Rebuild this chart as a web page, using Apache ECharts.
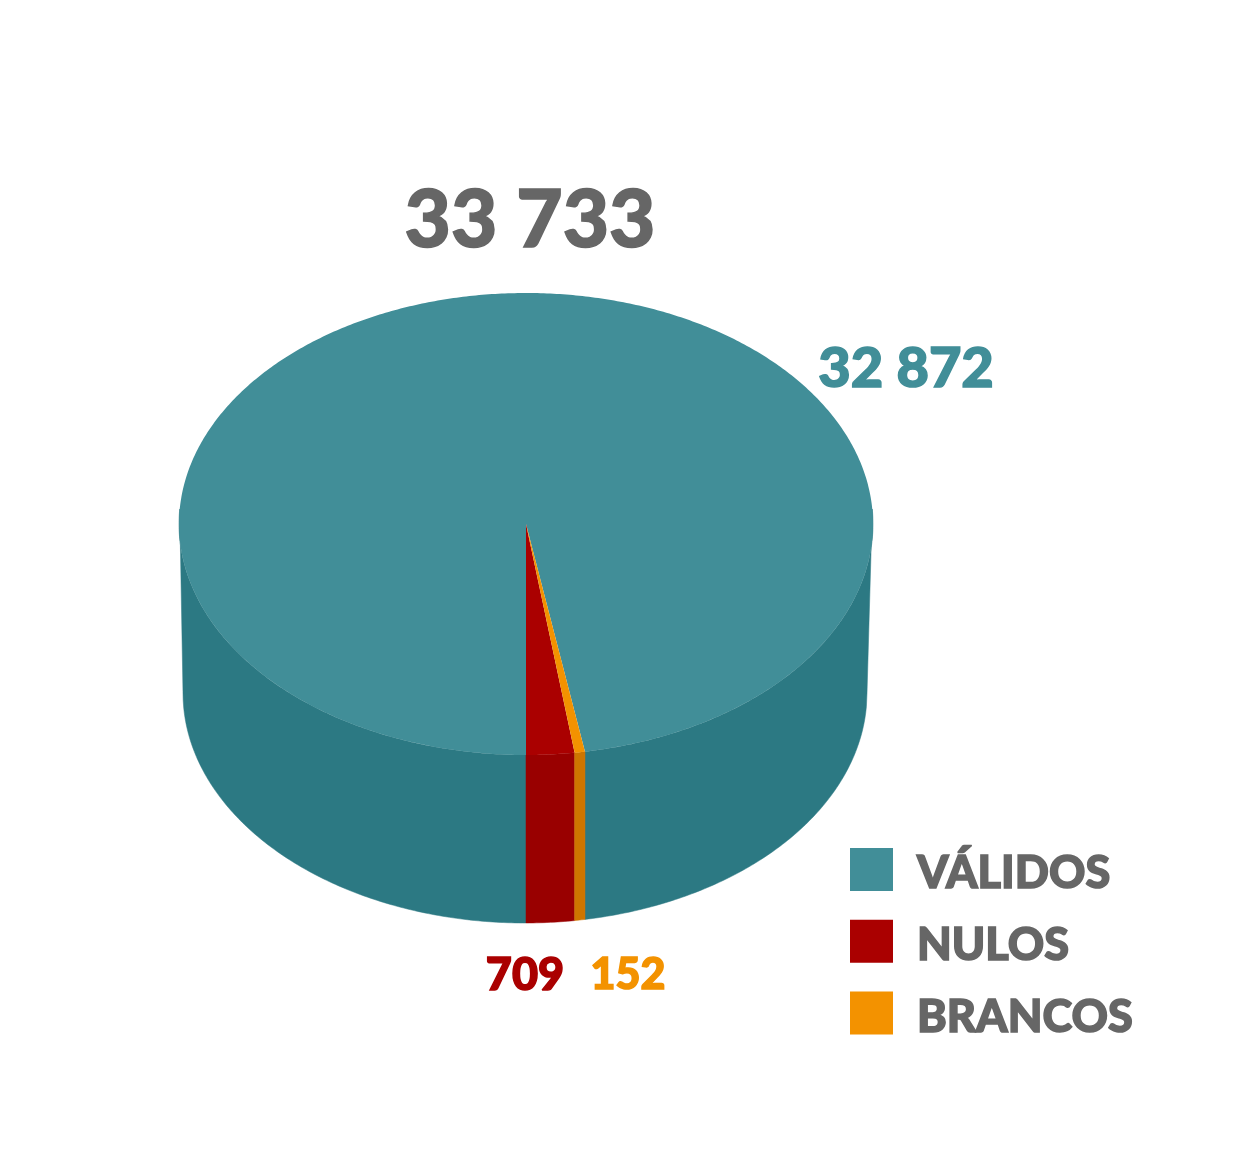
<!DOCTYPE html>
<html><head><meta charset="utf-8">
<style>html,body{margin:0;padding:0;background:#fff}#c{width:1240px;height:1165px}</style>
<script src="https://cdn.jsdelivr.net/npm/echarts@6/dist/echarts.min.js"></script>
</head><body><div id="c"></div>
<script>
const categories = ['VÁLIDOS', 'NULOS', 'BRANCOS'];
const values = [32872, 709, 152];
const total = 33733;
const topColors = ['#418E98', '#AA0000', '#F39200'];
const sideColors = ['#2C7983', '#990000', '#CE7500'];
const labelPos = [[906, 369, 56], [525, 975, 45], [628, 975, 43]];

const FONT = 'Lato, "Open Sans", sans-serif';
const TOP = {cx: 526, cy: 524, rx: 347, ry: 231};
const BASE = {cx: 525, cy: 693, rx: 342, ry: 230};
const PERSPECTIVE = 0.065;
const sum = values.reduce((a, b) => a + b, 0);
// Slices run from the front of the disc: NULOS, BRANCOS, then VÁLIDOS.
const order = [1, 2, 0];
function range(i) {
  let acc = 0;
  for (const k of order) {
    const a0 = acc / sum * 2 * Math.PI;
    acc += values[k];
    if (k === i) return [a0, acc / sum * 2 * Math.PI];
  }
}
// Angles are stretched a little at the front of the disc, as in a perspective view.
function warp(a) { return a + PERSPECTIVE * Math.sin(a); }
function topPt(a) {
  const w = warp(a);
  return [TOP.cx + TOP.rx * Math.sin(w), TOP.cy + TOP.ry * Math.cos(w)];
}
// The wall drops straight down from the rim onto the base ellipse.
function basePt(a) {
  const x = Math.max(BASE.cx - BASE.rx, Math.min(BASE.cx + BASE.rx, topPt(a)[0]));
  const u = (x - BASE.cx) / BASE.rx;
  return [x, BASE.cy + BASE.ry * Math.sqrt(1 - u * u)];
}
function arc(f, a0, a1) {
  const n = Math.max(2, Math.ceil(Math.abs(a1 - a0) / 0.01));
  const out = [];
  for (let j = 0; j <= n; j++) out.push(f(a0 + (a1 - a0) * j / n));
  return out;
}
// Only the front half of the disc shows a wall.
function frontParts(a0, a1) {
  const q = Math.PI / 2, parts = [];
  if (a0 < q) parts.push([a0, Math.min(a1, q)]);
  if (a1 > 3 * q) parts.push([Math.max(a0, 3 * q), a1]);
  return parts;
}
function fmt(v) { return String(v).replace(/\B(?=(\d{3})+$)/g, ' '); }

const series = categories.map((name, i) => ({
  name, type: 'custom', coordinateSystem: 'none',
  z: i === 0 ? 2 : 3,
  itemStyle: {color: topColors[i]},
  data: [[values[i]]],
  silent: true,
  animation: false,
  renderItem() {
    const [a0, a1] = range(i);
    const walls = frontParts(a0, a1).map(([s, e]) => ({
      type: 'polygon',
      shape: {points: arc(topPt, s, e).concat(arc(basePt, e, s))},
      style: {fill: sideColors[i], stroke: sideColors[i], lineWidth: 0.5}
    }));
    const wedge = [[TOP.cx, TOP.cy]].concat(arc(topPt, a0, a1));
    return {type: 'group', children: walls.concat([
      {type: 'polygon', shape: {points: wedge}, style: {fill: topColors[i]}}
    ])};
  }
}));

function thick(color, size) {
  return {fill: color, align: 'center', verticalAlign: 'middle', stroke: color, lineWidth: 1.5,
    font: '900 ' + size + 'px ' + FONT};
}
const texts = categories.map((name, i) => ({
  type: 'text', x: labelPos[i][0], y: labelPos[i][1], z: 10,
  style: Object.assign({text: fmt(values[i])}, thick(topColors[i], labelPos[i][2]))
}));
texts.push({
  type: 'text', x: 530, y: 221, z: 10,
  style: Object.assign({text: fmt(total)}, thick('#666666', 80))
});

const chart = echarts.init(document.getElementById('c'), null, {renderer: 'canvas'});
chart.setOption({
  backgroundColor: '#ffffff',
  animation: false,
  legend: {
    data: categories, orient: 'vertical', left: 850, top: 843, padding: 0,
    itemWidth: 43, itemHeight: 43, itemGap: 18, icon: 'rect',
    selectedMode: false,
    formatter: '{a|{name}}',
    textStyle: {
      rich: {a: {color: '#666666', fontFamily: FONT, fontWeight: 900, fontSize: 45, lineHeight: 43,
        textBorderColor: '#666666', textBorderWidth: 1.5, padding: [8, 0, 0, 19]}}
    }
  },
  series,
  graphic: texts
});
</script></body></html>
